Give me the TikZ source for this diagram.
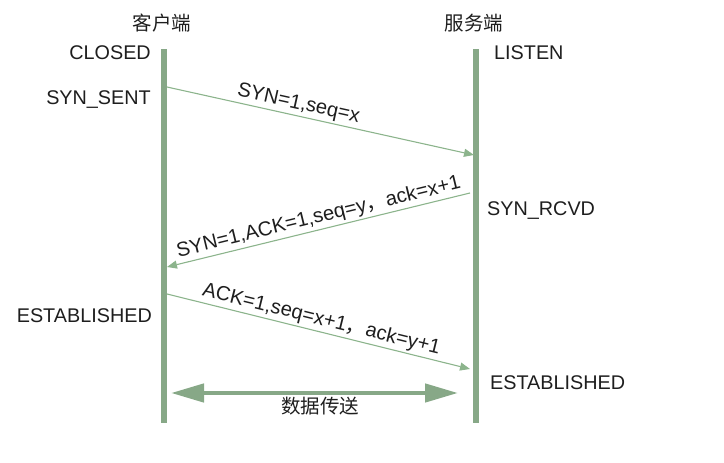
\documentclass[tikz,border=0pt]{standalone}
\usepackage{fontspec}
\setmainfont{Liberation Sans}
\newfontfamily\cjk{Noto Sans CJK SC}
\usetikzlibrary{arrows.meta}
\definecolor{lifegreen}{RGB}{135,168,135}
\definecolor{msggreen}{RGB}{140,180,140}
\definecolor{txtgray}{RGB}{30,30,30}
\tikzset{
  lifeline/.style={draw=lifegreen, line width=5.5pt},
  msg/.style={draw=msggreen, line width=1.1pt, -{Triangle[length=10pt,width=8pt]}},
  datarrow/.style={draw=lifegreen, line width=4.5pt, {Triangle[length=33pt,width=18pt]}-{Triangle[length=33pt,width=18pt]}},
  lbl/.style={font=\fontsize{19.8}{24}\selectfont, text=txtgray, inner sep=0pt},
  cjklbl/.style={font=\cjk\fontsize{19.5}{24}\selectfont, text=txtgray, inner sep=0pt},
  msglbl/.style={font=\fontsize{20.2}{24}\selectfont, text=txtgray, sloped, above, inner sep=2pt}
}
\begin{document}
\begin{tikzpicture}[x=1pt,y=-1pt]
\useasboundingbox (0,0) rectangle (724,463);
% lifelines
\coordinate (ctop) at (164,49);
\coordinate (cbot) at (164,423);
\coordinate (stop) at (476,49);
\coordinate (sbot) at (476,423);
\draw[lifeline] (ctop) -- (cbot);
\draw[lifeline] (stop) -- (sbot);
% headers
\node[cjklbl] (client) at (162,23) {客户端};
\node[cjklbl] (server) at (474,23) {服务端};
% states
\node[lbl, anchor=base east] (closed) at (151,59) {CLOSED};
\node[lbl, anchor=base east] (synsent) at (151,104) {SYN\_SENT};
\node[lbl, anchor=base west] (listen) at (494,59) {LISTEN};
\node[lbl, anchor=base west] (synrcvd) at (487,215) {SYN\_RCVD};
\node[lbl, anchor=base east] (estc) at (152,322) {ESTABLISHED};
\node[lbl, anchor=base west] (ests) at (490,389) {ESTABLISHED};
% messages
\coordinate (m1a) at (167,87);
\coordinate (m1b) at (474,155);
\coordinate (m2a) at (470,193);
\coordinate (m2b) at (167,267);
\coordinate (m3a) at (167,294);
\coordinate (m3b) at (470,369);
\draw[msg] (m1a) -- node[msglbl, pos=0.42] (l1) {SYN=1,seq=x} (m1b);
\draw[msg] (m2a) -- node[msglbl, pos=0.49] (l2) {SYN=1,ACK=1,seq=y{\cjk ，}ack=x+1} (m2b);
\draw[msg] (m3a) -- node[msglbl, pos=0.5] (l3) {ACK=1,seq=x+1{\cjk ，}ack=y+1} (m3b);
% data transfer
\coordinate (da) at (171,393);
\coordinate (db) at (458,393);
\draw[datarrow] (da) -- (db);
\node[cjklbl] (data) at (320,406) {数据传送};
\end{tikzpicture}
\end{document}
